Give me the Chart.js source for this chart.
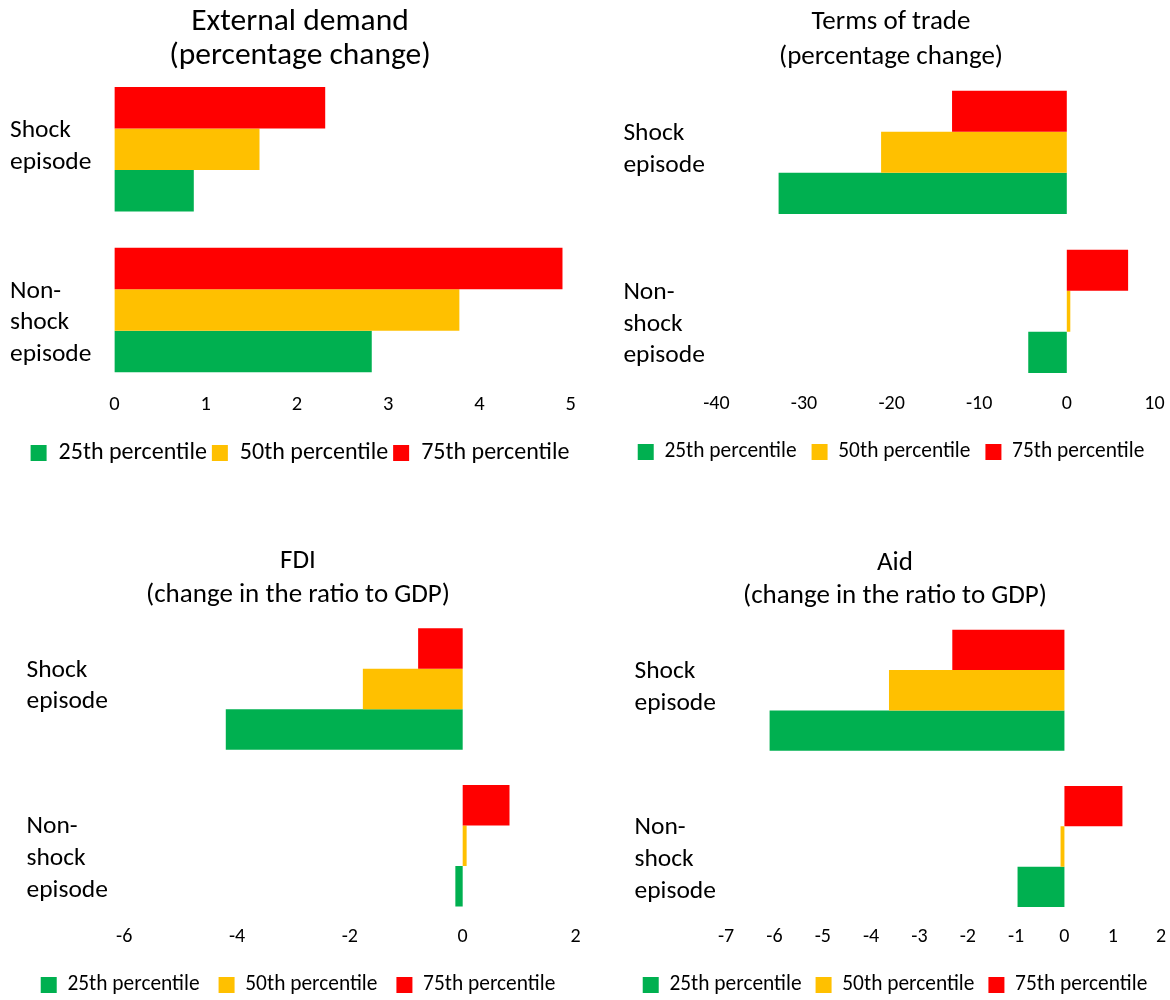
<!DOCTYPE html>
<html>
<head>
<meta charset="utf-8">
<script src="https://cdn.jsdelivr.net/npm/chart.js@4.4.1/dist/chart.umd.min.js"></script>
<style>
  html, body { margin: 0; padding: 0; background: #ffffff; overflow: hidden; }
  body { width: 1170px; height: 1000px; position: relative; }
  .panel { position: absolute; }
  .panel canvas { display: block; }
</style>
</head>
<body>
<script>
// Series, drawn top to bottom inside each category; the legend lists them in reverse.
const seriesNames = ['75th percentile', '50th percentile', '25th percentile'];
const seriesColors = ['#FF0000', '#FFC000', '#00B050'];
const categories = [['Shock', 'episode'], ['Non-', 'shock', 'episode']];

// External demand (percentage change)
const demandTitle = ['External demand', '(percentage change)'];
const demandP75 = [2.31, 4.91];
const demandP50 = [1.59, 3.78];
const demandP25 = [0.87, 2.82];
const demandTicks = [0, 1, 2, 3, 4, 5];

// Terms of trade (percentage change)
const totTitle = ['Terms of trade', '(percentage change)'];
const totP75 = [-13.1, 7.0];
const totP50 = [-21.2, 0.4];
const totP25 = [-32.9, -4.4];
const totTicks = [-40, -30, -20, -10, 0, 10];

// FDI (change in the ratio to GDP)
const fdiTitle = ['FDI', '(change in the ratio to GDP)'];
const fdiP75 = [-0.79, 0.83];
const fdiP50 = [-1.77, 0.07];
const fdiP25 = [-4.2, -0.13];
const fdiTicks = [-6, -4, -2, 0, 2];

// Aid (change in the ratio to GDP)
const aidTitle = ['Aid', '(change in the ratio to GDP)'];
const aidP75 = [-2.32, 1.2];
const aidP50 = [-3.63, -0.08];
const aidP25 = [-6.1, -0.97];
const aidTicks = [-7, -6, -5, -4, -3, -2, -1, 0, 1, 2];

const FONT = 'Carlito, Calibri, Lato, "Open Sans", sans-serif';
const INK = '#000000';
const BOX = 16;
const HALF = 297;   // half width of the title / legend band of each panel

// Panel geometry: x values are page coordinates, y values are relative to the panel top.
const panels = [
  { title: demandTitle, values: [demandP75, demandP50, demandP25], ticks: demandTicks,
    top: 0, center: 300, labelX: 10, plotLeft: 114.4, plotRight: 570.7,
    titleSize: 31.5, titleLineH: 34, titleCenter: 22, plotTop: 69, plotBottom: 390.4,
    tickSize: 20.5, tickCenter: 405, legendSize: 24, legendPad: 5, legendCenter: 453 },
  { title: totTitle, values: [totP75, totP50, totP25], ticks: totTicks,
    top: 0, center: 890.6, labelX: 623, plotLeft: 716, plotRight: 1154,
    titleSize: 27, titleLineH: 35, titleCenter: 22, plotTop: 72.8, plotBottom: 390.8,
    tickSize: 20, tickCenter: 404, legendSize: 21.4, legendPad: 15, legendCenter: 452 },
  { title: fdiTitle, values: [fdiP75, fdiP50, fdiP25], ticks: fdiTicks,
    top: 530, center: 297.5, labelX: 26, plotLeft: 123.75, plotRight: 575,
    titleSize: 27, titleLineH: 33.3, titleCenter: 31.7, plotTop: 80.7, plotBottom: 394,
    tickSize: 20, tickCenter: 407, legendSize: 21.4, legendPad: 19, legendCenter: 455 },
  { title: aidTitle, values: [aidP75, aidP50, aidP25], ticks: aidTicks,
    top: 530, center: 894.5, labelX: 634, plotLeft: 725.6, plotRight: 1160.6,
    titleSize: 27, titleLineH: 33.4, titleCenter: 33.3, plotTop: 82.2, plotBottom: 394.6,
    tickSize: 20, tickCenter: 407, legendSize: 21.4, legendPad: 14, legendCenter: 455 }
];

// The three-line label gets a blank first line so its text block sits a little lower.
const axisLabels = categories.map(lines => lines.length > 2 ? [''].concat(lines) : lines);

// An invisible category axis used only to reserve horizontal space.
function spacerAxis(position, width, weight) {
  return {
    type: 'category',
    position: position,
    weight: weight,
    display: width > 0,
    grid: { display: false, drawTicks: false },
    border: { display: false },
    ticks: { display: false },
    afterFit: s => { s.width = width; s.paddingTop = 0; s.paddingBottom = 0; }
  };
}

function buildPanel(p) {
  const left = p.center - HALF;
  const width = 2 * HALF;
  const itemH = Math.max(p.legendSize, BOX);
  const tickPad = p.tickCenter - p.plotBottom - p.tickSize * 1.2 / 2;
  const axisH = p.legendCenter - p.plotBottom - p.legendPad - itemH / 2;
  const legendH = itemH + p.legendPad + 10;
  const height = Math.ceil(p.plotBottom + axisH + legendH + 4);
  const padB = height - (p.plotBottom + axisH + legendH);
  const outerLeft = p.labelX - left;
  const yWidth = p.plotLeft - p.labelX;
  const rightWidth = left + width - p.plotRight;
  const titlePadTop = p.titleCenter - p.titleLineH / 2;
  const titlePadBottom = p.plotTop - titlePadTop - p.title.length * p.titleLineH;

  const holder = document.createElement('div');
  holder.className = 'panel';
  holder.style.left = left + 'px';
  holder.style.top = p.top + 'px';
  const canvas = document.createElement('canvas');
  canvas.width = width;
  canvas.height = height;
  canvas.style.width = width + 'px';
  canvas.style.height = height + 'px';
  holder.appendChild(canvas);
  document.body.appendChild(holder);

  new Chart(canvas, {
    type: 'bar',
    data: {
      labels: axisLabels,
      datasets: seriesNames.map((name, i) => ({
        label: name,
        data: p.values[i],
        backgroundColor: seriesColors[i],
        borderWidth: 0,
        categoryPercentage: 0.775,
        barPercentage: 1.0
      }))
    },
    options: {
      indexAxis: 'y',
      responsive: false,
      animation: false,
      events: [],
      layout: { padding: { left: 0, right: 0, top: 0, bottom: padB } },
      scales: {
        x: {
          type: 'linear',
          position: 'bottom',
          min: p.ticks[0],
          max: p.ticks[p.ticks.length - 1],
          grid: { display: false, drawTicks: false },
          border: { display: false },
          ticks: {
            padding: tickPad,
            color: INK,
            font: { family: FONT, size: p.tickSize, lineHeight: 1.2 },
            callback: v => String(v)
          },
          afterBuildTicks: s => { s.ticks = p.ticks.map(v => ({ value: v })); },
          afterFit: s => { s.height = axisH; s.paddingLeft = 0; s.paddingRight = 0; }
        },
        y: {
          type: 'category',
          position: 'left',
          weight: 0,
          grid: { display: false, drawTicks: false },
          border: { display: false },
          ticks: {
            crossAlign: 'far',
            padding: 0,
            labelOffset: -3,
            autoSkip: false,
            color: INK,
            font: { family: FONT, size: 25.5, lineHeight: '31.8px' }
          },
          afterFit: s => { s.width = yWidth; s.paddingTop = 0; s.paddingBottom = 0; }
        },
        yOuter: spacerAxis('left', outerLeft, 5),
        yRight: spacerAxis('right', rightWidth, 0)
      },
      plugins: {
        title: {
          display: true,
          text: p.title,
          color: INK,
          font: { family: FONT, size: p.titleSize, weight: 'normal', lineHeight: p.titleLineH + 'px' },
          padding: { top: titlePadTop, bottom: titlePadBottom }
        },
        legend: {
          display: true,
          position: 'bottom',
          reverse: true,
          labels: {
            boxWidth: BOX,
            boxHeight: BOX,
            padding: p.legendPad,
            color: INK,
            font: { family: FONT, size: p.legendSize }
          }
        },
        tooltip: { enabled: false }
      }
    }
  });
}

panels.forEach(buildPanel);
</script>
</body>
</html>
